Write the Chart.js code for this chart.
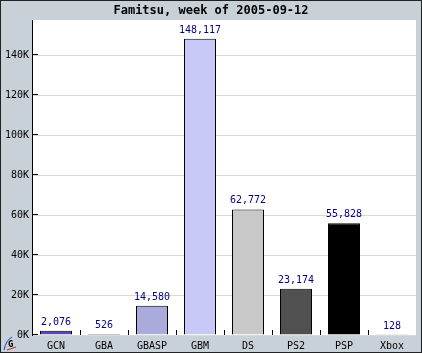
<!DOCTYPE html>
<html>
<head>
<meta charset="utf-8">
<script src="https://cdn.jsdelivr.net/npm/chart.js@4.4.0/dist/chart.umd.min.js"></script>
<style>
  body { margin: 0; background: #c8d0d8; }
  canvas { display: block; }
</style>
</head>
<body>
<canvas id="myChart" width="422" height="353"></canvas>
<script>
let titleText = "Famitsu, week of 2005-09-12";
let platforms = ['GCN', 'GBA', 'GBASP', 'GBM', 'DS', 'PS2', 'PSP', 'Xbox'];
let unitsSold = [2076, 526, 14580, 148117, 62772, 23174, 55828, 128];
let barColors = ['#5848b8', '#101060', '#aaaadc', '#c8c8f8', '#c8c8c8', '#505050', '#000000', '#40a040'];
let yTicks = [0, 20000, 40000, 60000, 80000, 100000, 120000, 140000];

let mono = '"DejaVu Sans Mono", monospace';

// background, frame, title, value labels and the little inner tick marks
let decor = {
    id: 'decor',
    beforeDraw(chart) {
        let ctx = chart.ctx;
        let a = chart.chartArea;
        ctx.save();
        ctx.fillStyle = '#c8d0d8';
        ctx.fillRect(0, 0, chart.width, chart.height);
        ctx.fillStyle = '#ffffff';
        ctx.fillRect(a.left, a.top, a.right - a.left, a.bottom - a.top);
        ctx.strokeStyle = '#222222';
        ctx.lineWidth = 1;
        ctx.strokeRect(0.5, 0.5, chart.width - 1, chart.height - 1);
        ctx.fillStyle = '#000000';
        ctx.font = 'bold 12px ' + mono;
        ctx.textAlign = 'center';
        ctx.textBaseline = 'middle';
        ctx.fillText(titleText, chart.width / 2, 11);
        ctx.restore();
    },
    afterDatasetsDraw(chart) {
        let ctx = chart.ctx;
        let a = chart.chartArea;
        let x = chart.scales.x;
        let y = chart.scales.y;
        ctx.save();
        ctx.strokeStyle = '#000000';
        ctx.lineWidth = 1;
        ctx.beginPath();
        yTicks.forEach(v => {
            let py = Math.round(y.getPixelForValue(v)) - 0.5;
            ctx.moveTo(a.left, py);
            ctx.lineTo(a.left + 6, py);
        });
        for (let i = 0; i < platforms.length - 1; i++) {
            let px = Math.round((x.getPixelForValue(i) + x.getPixelForValue(i + 1)) / 2) + 0.5;
            ctx.moveTo(px, a.bottom);
            ctx.lineTo(px, a.bottom - 5);
        }
        ctx.stroke();

        ctx.fillStyle = '#000080';
        ctx.font = '10px ' + mono;
        ctx.textAlign = 'center';
        ctx.textBaseline = 'alphabetic';
        chart.getDatasetMeta(0).data.forEach((bar, i) => {
            ctx.fillText(unitsSold[i].toLocaleString('en-US'), bar.x, bar.y - 6);
        });

        // small logo in the corner
        ctx.lineWidth = 1;
        ctx.strokeStyle = '#2040d0';
        ctx.beginPath();
        ctx.moveTo(4, 350);
        ctx.quadraticCurveTo(6, 340, 12, 337);
        ctx.stroke();
        ctx.strokeStyle = '#d02020';
        ctx.beginPath();
        ctx.moveTo(7, 350);
        ctx.lineTo(16, 347);
        ctx.stroke();
        ctx.fillStyle = '#000000';
        ctx.font = 'bold 9px ' + mono;
        ctx.textAlign = 'left';
        ctx.fillText('G', 8, 347);
        ctx.restore();
    }
};

let chart1 = new Chart(document.getElementById('myChart').getContext('2d'), {
    type: 'bar',
    data: {
        labels: platforms,
        datasets: [{
            data: unitsSold,
            backgroundColor: barColors,
            borderColor: '#000000',
            borderWidth: 1,
            barPercentage: 2 / 3,
            categoryPercentage: 1
        }]
    },
    options: {
        responsive: false,
        animation: false,
        devicePixelRatio: 1,
        layout: { padding: { left: 0, top: 20, right: 6, bottom: 0 } },
        plugins: {
            legend: { display: false },
            tooltip: { enabled: false }
        },
        scales: {
            x: {
                afterFit: s => { s.height = 18; },
                grid: { display: false, drawTicks: false },
                border: { display: false },
                ticks: {
                    color: '#000000',
                    font: { family: mono, size: 10 },
                    padding: 5,
                    maxRotation: 0
                }
            },
            y: {
                min: 0,
                max: 157500,
                afterFit: s => { s.width = 32; },
                afterBuildTicks: s => { s.ticks = yTicks.map(v => ({ value: v })); },
                grid: { color: '#d8d8d8', drawTicks: false },
                border: { display: true, color: '#000000', width: 1 },
                ticks: {
                    color: '#000000',
                    font: { family: mono, size: 10 },
                    padding: 3,
                    callback: v => (v / 1000) + 'K'
                }
            }
        }
    },
    plugins: [decor]
});
</script>
</body>
</html>
